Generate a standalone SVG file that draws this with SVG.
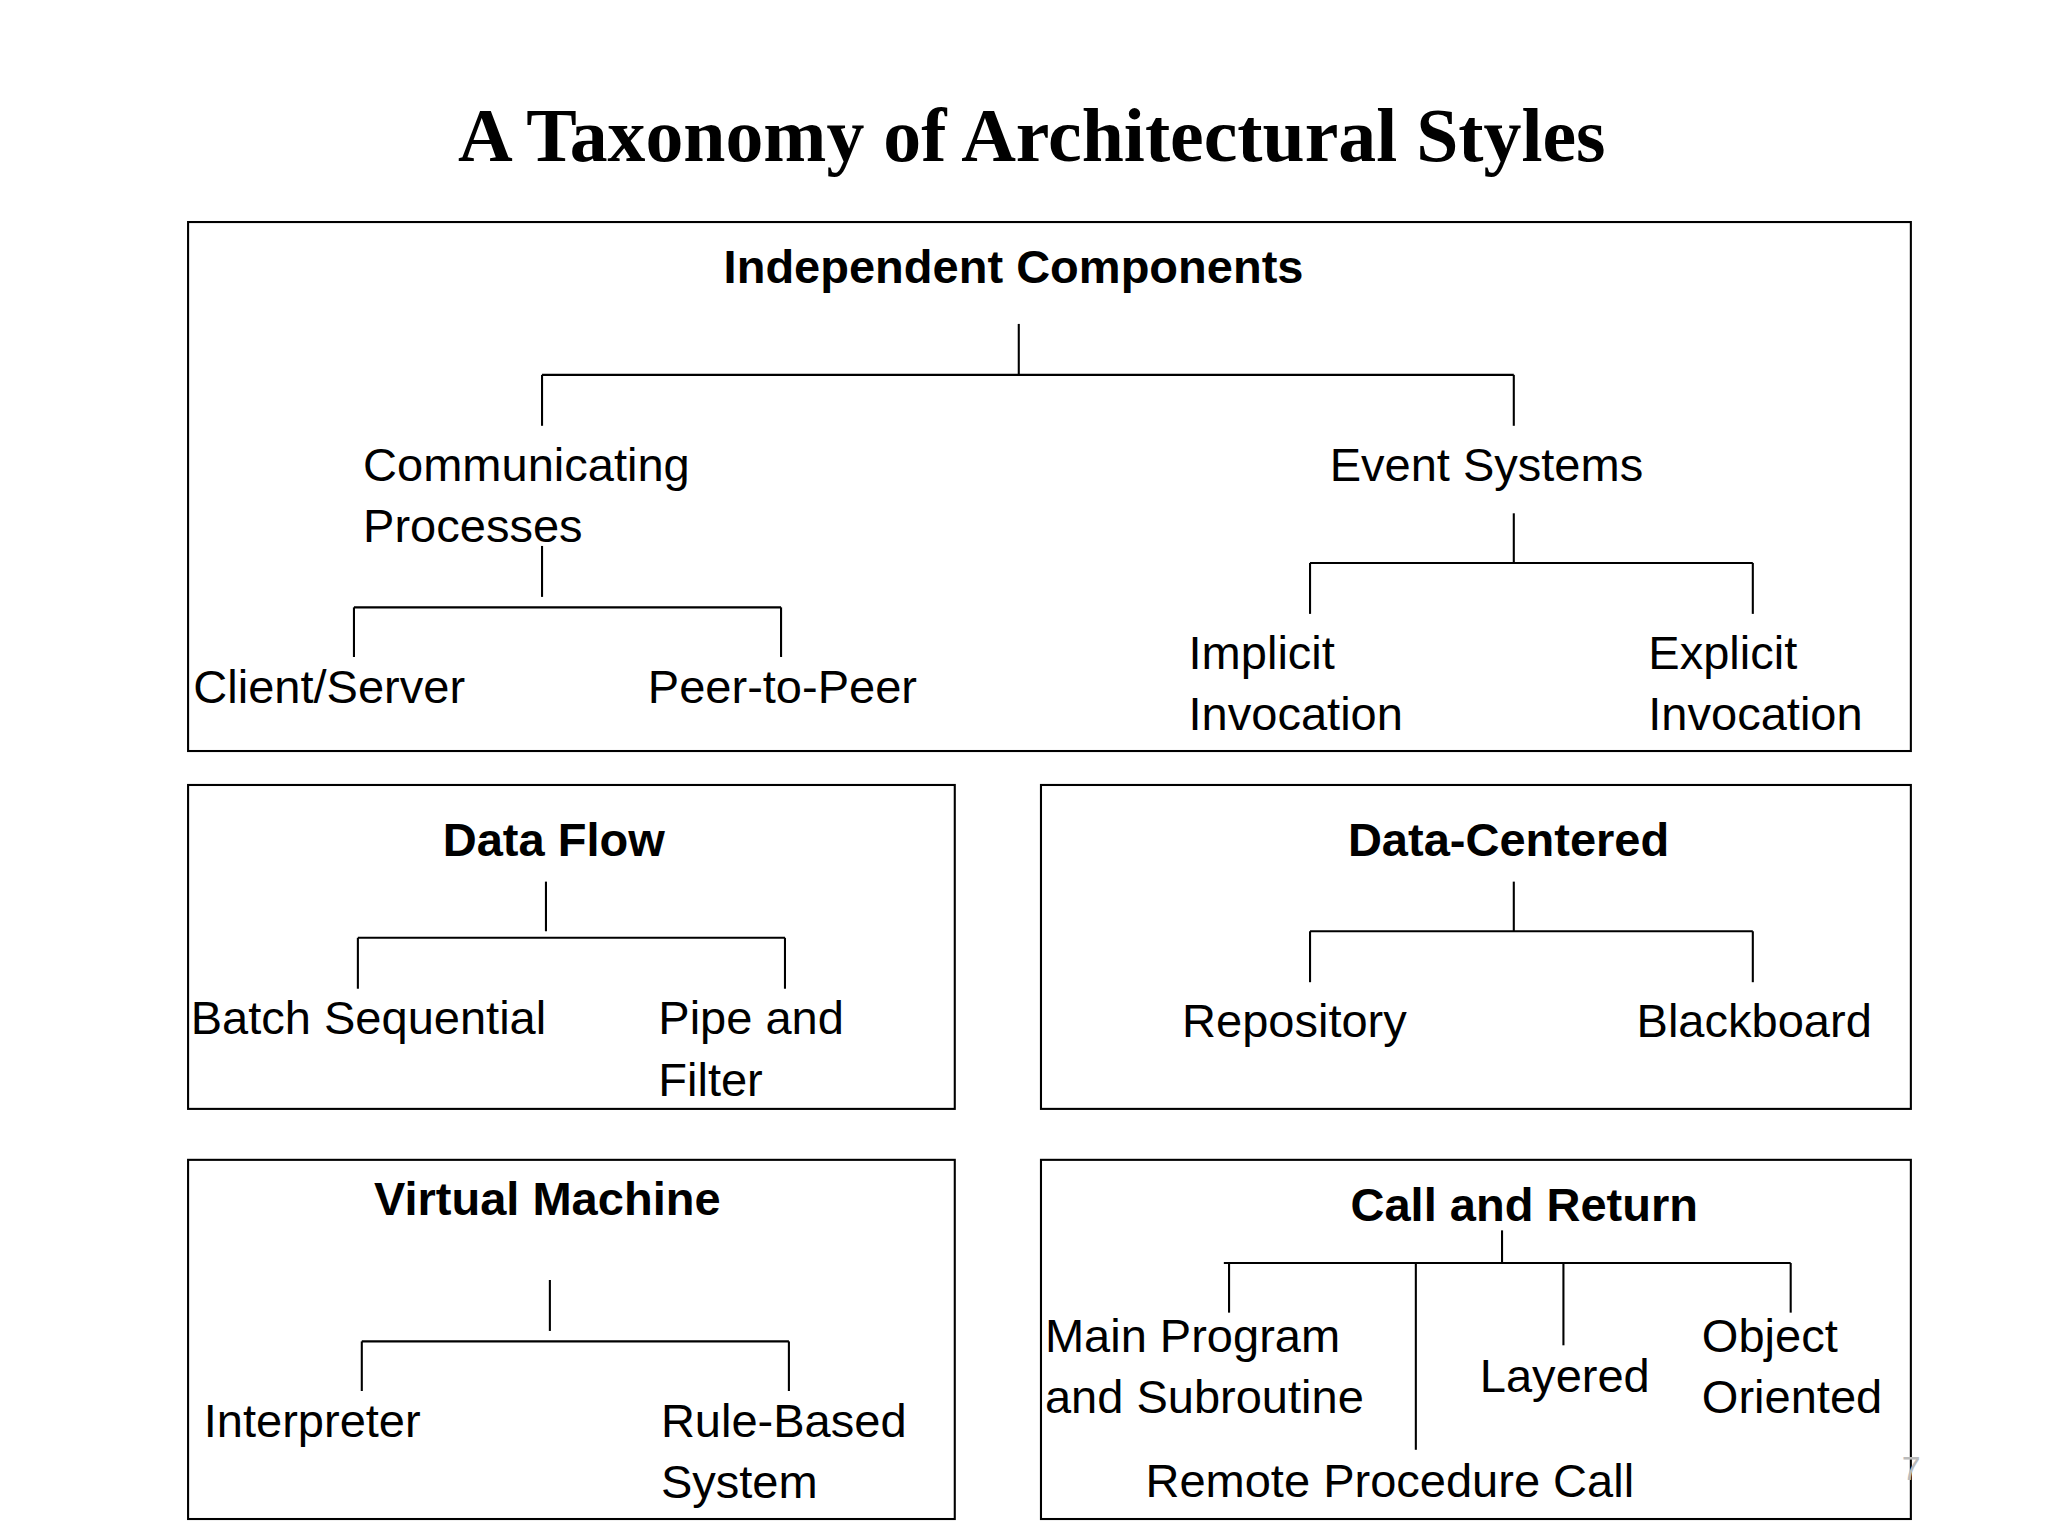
<svg xmlns="http://www.w3.org/2000/svg" width="2048" height="1536" viewBox="0 0 2048 1536">
<style>
.b{fill:none;stroke:#000;stroke-width:1.6}
.c line{stroke:#000;stroke-width:1.6}
text{font-family:"Liberation Sans",Arial,sans-serif;font-size:36px;fill:#000}
.h{font-weight:bold;text-anchor:middle}
.t{font-family:"Liberation Serif","Times New Roman",serif;font-size:58px;font-weight:bold;text-anchor:middle}
</style>
<rect width="2048" height="1536" fill="#fff"/>
<g transform="scale(1.30612)">
<text class="t" x="790" y="123">A Taxonomy of Architectural Styles</text>
<g id="independent"><rect class="b" x="144" y="170" width="1319" height="405"/><text class="h" x="776" y="217">Independent Components</text></g>
<g id="communicating"><text x="278" y="368">Communicating</text><text x="278" y="415">Processes</text></g>
<g id="event"><text x="1018" y="368">Event Systems</text></g>
<g id="client"><text x="148" y="538">Client/Server</text></g>
<g id="p2p"><text x="496" y="538">Peer-to-Peer</text></g>
<g id="implicit"><text x="910" y="512">Implicit</text><text x="910" y="559">Invocation</text></g>
<g id="explicit"><text x="1262" y="512">Explicit</text><text x="1262" y="559">Invocation</text></g>
<g id="dataflow"><rect class="b" x="144" y="601" width="587" height="248"/><text class="h" x="424" y="655">Data Flow</text></g>
<g id="batch"><text x="146" y="792">Batch Sequential</text></g>
<g id="pipe"><text x="504" y="792">Pipe and</text><text x="504" y="839">Filter</text></g>
<g id="datacentered"><rect class="b" x="797" y="601" width="666" height="248"/><text class="h" x="1155" y="655">Data-Centered</text></g>
<g id="repository"><text x="905" y="794">Repository</text></g>
<g id="blackboard"><text x="1253" y="794">Blackboard</text></g>
<g id="vm"><rect class="b" x="144" y="888" width="587" height="275"/><text class="h" x="419" y="930">Virtual Machine</text></g>
<g id="interpreter"><text x="156" y="1100">Interpreter</text></g>
<g id="rule"><text x="506" y="1100">Rule-Based</text><text x="506" y="1147">System</text></g>
<g id="callreturn"><rect class="b" x="797" y="888" width="666" height="275"/><text class="h" x="1167" y="935">Call and Return</text></g>
<g id="main"><text x="800" y="1035">Main Program</text><text x="800" y="1082">and Subroutine</text></g>
<g id="layered"><text x="1133" y="1066">Layered</text></g>
<g id="oo"><text x="1303" y="1035">Object</text><text x="1303" y="1082">Oriented</text></g>
<g id="rpc"><text x="877" y="1146">Remote Procedure Call</text></g>
<text x="1456" y="1133" style="fill:#bbb;font-size:26px">7</text>
<g id="connectors" class="c">
<line x1="780" y1="248" x2="780" y2="287"/><line x1="415" y1="287" x2="1159" y2="287"/>
<line x1="415" y1="287" x2="415" y2="326"/><line x1="1159" y1="287" x2="1159" y2="326"/>
<line x1="415" y1="418" x2="415" y2="457"/><line x1="271" y1="465" x2="598" y2="465"/>
<line x1="271" y1="465" x2="271" y2="503"/><line x1="598" y1="465" x2="598" y2="503"/>
<line x1="1159" y1="393" x2="1159" y2="431"/><line x1="1003" y1="431" x2="1342" y2="431"/>
<line x1="1003" y1="431" x2="1003" y2="470"/><line x1="1342" y1="431" x2="1342" y2="470"/>
<line x1="418" y1="675" x2="418" y2="713"/><line x1="274" y1="718" x2="601" y2="718"/>
<line x1="274" y1="718" x2="274" y2="757"/><line x1="601" y1="718" x2="601" y2="757"/>
<line x1="1159" y1="675" x2="1159" y2="713"/><line x1="1003" y1="713" x2="1342" y2="713"/>
<line x1="1003" y1="713" x2="1003" y2="752"/><line x1="1342" y1="713" x2="1342" y2="752"/>
<line x1="421" y1="980" x2="421" y2="1019"/><line x1="277" y1="1027" x2="604" y2="1027"/>
<line x1="277" y1="1027" x2="277" y2="1065"/><line x1="604" y1="1027" x2="604" y2="1065"/>
<line x1="1150" y1="942" x2="1150" y2="967"/><line x1="937" y1="967" x2="1371" y2="967"/>
<line x1="941" y1="967" x2="941" y2="1005"/><line x1="1084" y1="967" x2="1084" y2="1110"/>
<line x1="1197" y1="967" x2="1197" y2="1030"/><line x1="1371" y1="967" x2="1371" y2="1005"/>
</g>
</g>
</svg>
